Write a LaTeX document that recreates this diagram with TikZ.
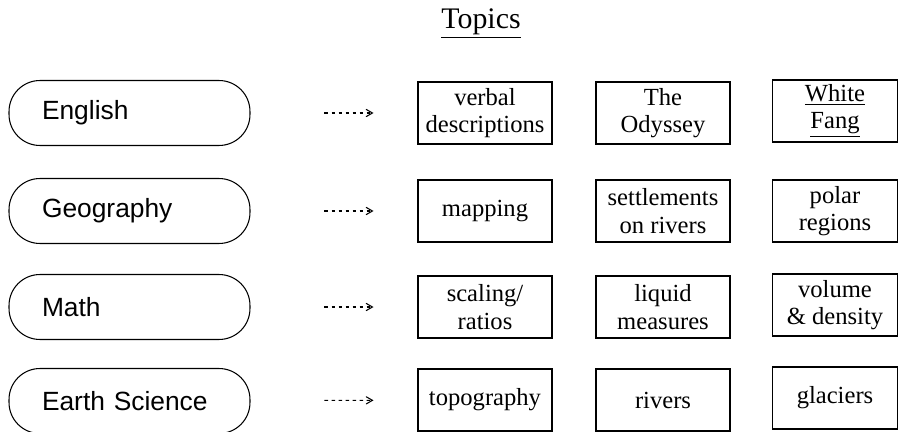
\documentclass[tikz,border=0pt]{standalone}
\usepackage{fontspec}
\setmainfont{Liberation Serif}
\setsansfont{Liberation Sans}
\usetikzlibrary{arrows}

\begin{document}
\begin{tikzpicture}[x=0.02cm,y=-0.02cm,
  pill/.style={draw,rounded corners=0.62cm,line width=0.6pt,minimum height=1.3cm,text width=3.5cm,inner xsep=0.66cm,align=left,font=\sffamily\fontsize{15}{18}\selectfont},
  topic/.style={draw,line width=0.6pt,minimum width=2.68cm,minimum height=1.24cm,inner sep=0pt,align=center,font=\fontsize{14}{15.5}\selectfont},
  dots/.style={->,>=angle 60,dash pattern=on 2pt off 2pt,line width=0.6pt,shorten <=1.48cm,shorten >=0.88cm}]

\useasboundingbox (0,0) rectangle (899,432);

\node[font=\fontsize{17}{20}\selectfont] (title) at (481,24) {\underline{Topics}};

\node[pill] (eng) at (129.5,113) {English};
\node[pill] (geo) at (129.5,211) {Geography};
\node[pill] (math) at (129.5,307) {Math};
\node[pill] (earth) at (129.5,401) {Earth Science};

\node[topic] (eng1) at (485,113) {verbal\\descriptions};
\node[topic] (eng2) at (663,113) {The\\Odyssey};
\node[topic,minimum width=2.5cm] (eng3) at (835,111) {\underline{White}\\\underline{Fang}};
\node[topic] (geo1) at (485,211) {mapping};
\node[topic] (geo2) at (663,211) {settlements\\on rivers};
\node[topic,minimum width=2.5cm] (geo3) at (835,211) {polar\\regions};
\node[topic] (math1) at (485,307) {scaling/\\ratios};
\node[topic] (math2) at (663,307) {liquid\\measures};
\node[topic,minimum width=2.5cm] (math3) at (835,305) {volume\\\& density};
\node[topic] (earth1) at (485,400) {topography};
\node[topic] (earth2) at (663,400) {rivers};
\node[topic,minimum width=2.5cm] (earth3) at (835,398) {glaciers};

\draw[dots] (eng) -- (eng1);
\draw[dots] (geo) -- (geo1);
\draw[dots] (math) -- (math1);
\draw[dots] (earth) -- (earth1);

\end{tikzpicture}
\end{document}
